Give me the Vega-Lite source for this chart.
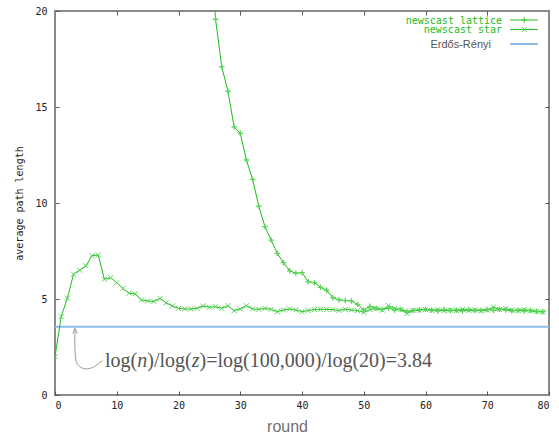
{
  "$schema": "https://vega.github.io/schema/vega-lite/v6.json",
  "width": 494,
  "height": 384,
  "autosize": {"type": "none"},
  "padding": {"left": 55, "top": 11, "right": 10, "bottom": 41},
  "background": "white",
  "config": {
    "view": {"stroke": "#8a8a8a", "strokeWidth": 2},
    "axis": {
      "domain": false,
      "grid": false,
      "tickSize": -4,
      "tickColor": "#555555",
      "tickWidth": 1,
      "labelFont": "DejaVu Sans Mono",
      "labelFontSize": 10,
      "labelColor": "#222222"
    }
  },
  "datasets": {
    "paths": [
      {"series": "star", "round": 0, "value": 2.0},
      {"series": "star", "round": 1, "value": 4.08},
      {"series": "star", "round": 2, "value": 5.04},
      {"series": "star", "round": 3, "value": 6.29},
      {"series": "star", "round": 4, "value": 6.5},
      {"series": "star", "round": 5, "value": 6.73},
      {"series": "star", "round": 6, "value": 7.26},
      {"series": "star", "round": 7, "value": 7.29},
      {"series": "star", "round": 8, "value": 6.03},
      {"series": "star", "round": 9, "value": 6.11},
      {"series": "star", "round": 10, "value": 5.85},
      {"series": "star", "round": 11, "value": 5.55},
      {"series": "star", "round": 12, "value": 5.3},
      {"series": "star", "round": 13, "value": 5.27},
      {"series": "star", "round": 14, "value": 4.95},
      {"series": "star", "round": 15, "value": 4.9},
      {"series": "star", "round": 16, "value": 4.87},
      {"series": "star", "round": 17, "value": 5.03},
      {"series": "star", "round": 18, "value": 4.8},
      {"series": "star", "round": 19, "value": 4.64},
      {"series": "star", "round": 20, "value": 4.51},
      {"series": "star", "round": 21, "value": 4.48},
      {"series": "star", "round": 22, "value": 4.48},
      {"series": "star", "round": 23, "value": 4.51},
      {"series": "star", "round": 24, "value": 4.64},
      {"series": "star", "round": 25, "value": 4.57},
      {"series": "star", "round": 26, "value": 4.6},
      {"series": "star", "round": 27, "value": 4.51},
      {"series": "star", "round": 28, "value": 4.65},
      {"series": "star", "round": 29, "value": 4.39},
      {"series": "star", "round": 30, "value": 4.48},
      {"series": "star", "round": 31, "value": 4.65},
      {"series": "star", "round": 32, "value": 4.48},
      {"series": "star", "round": 33, "value": 4.46},
      {"series": "star", "round": 34, "value": 4.51},
      {"series": "star", "round": 35, "value": 4.46},
      {"series": "star", "round": 36, "value": 4.34},
      {"series": "star", "round": 37, "value": 4.43},
      {"series": "star", "round": 38, "value": 4.48},
      {"series": "star", "round": 39, "value": 4.43},
      {"series": "star", "round": 40, "value": 4.34},
      {"series": "star", "round": 41, "value": 4.4},
      {"series": "star", "round": 42, "value": 4.45},
      {"series": "star", "round": 43, "value": 4.46},
      {"series": "star", "round": 44, "value": 4.46},
      {"series": "star", "round": 45, "value": 4.45},
      {"series": "star", "round": 46, "value": 4.4},
      {"series": "star", "round": 47, "value": 4.46},
      {"series": "star", "round": 48, "value": 4.43},
      {"series": "star", "round": 49, "value": 4.4},
      {"series": "star", "round": 50, "value": 4.3},
      {"series": "star", "round": 51, "value": 4.45},
      {"series": "star", "round": 52, "value": 4.5},
      {"series": "star", "round": 53, "value": 4.42},
      {"series": "star", "round": 54, "value": 4.65},
      {"series": "star", "round": 55, "value": 4.5},
      {"series": "star", "round": 56, "value": 4.45},
      {"series": "star", "round": 57, "value": 4.25},
      {"series": "star", "round": 58, "value": 4.4},
      {"series": "star", "round": 59, "value": 4.42},
      {"series": "star", "round": 60, "value": 4.45},
      {"series": "star", "round": 61, "value": 4.4},
      {"series": "star", "round": 62, "value": 4.45},
      {"series": "star", "round": 63, "value": 4.38},
      {"series": "star", "round": 64, "value": 4.42},
      {"series": "star", "round": 65, "value": 4.4},
      {"series": "star", "round": 66, "value": 4.46},
      {"series": "star", "round": 67, "value": 4.4},
      {"series": "star", "round": 68, "value": 4.43},
      {"series": "star", "round": 69, "value": 4.38},
      {"series": "star", "round": 70, "value": 4.42},
      {"series": "star", "round": 71, "value": 4.58},
      {"series": "star", "round": 72, "value": 4.45},
      {"series": "star", "round": 73, "value": 4.5},
      {"series": "star", "round": 74, "value": 4.42},
      {"series": "star", "round": 75, "value": 4.4},
      {"series": "star", "round": 76, "value": 4.45},
      {"series": "star", "round": 77, "value": 4.38},
      {"series": "star", "round": 78, "value": 4.35},
      {"series": "star", "round": 79, "value": 4.32},
      {"series": "lattice", "round": 25, "value": 24.0},
      {"series": "lattice", "round": 26, "value": 19.57},
      {"series": "lattice", "round": 27, "value": 17.1},
      {"series": "lattice", "round": 28, "value": 15.83},
      {"series": "lattice", "round": 29, "value": 13.97},
      {"series": "lattice", "round": 30, "value": 13.63},
      {"series": "lattice", "round": 31, "value": 12.24},
      {"series": "lattice", "round": 32, "value": 11.23},
      {"series": "lattice", "round": 33, "value": 9.84},
      {"series": "lattice", "round": 34, "value": 8.77},
      {"series": "lattice", "round": 35, "value": 8.07},
      {"series": "lattice", "round": 36, "value": 7.38},
      {"series": "lattice", "round": 37, "value": 6.89},
      {"series": "lattice", "round": 38, "value": 6.47},
      {"series": "lattice", "round": 39, "value": 6.34},
      {"series": "lattice", "round": 40, "value": 6.37},
      {"series": "lattice", "round": 41, "value": 5.9},
      {"series": "lattice", "round": 42, "value": 5.85},
      {"series": "lattice", "round": 43, "value": 5.61},
      {"series": "lattice", "round": 44, "value": 5.45},
      {"series": "lattice", "round": 45, "value": 5.07},
      {"series": "lattice", "round": 46, "value": 4.96},
      {"series": "lattice", "round": 47, "value": 4.92},
      {"series": "lattice", "round": 48, "value": 4.9},
      {"series": "lattice", "round": 49, "value": 4.72},
      {"series": "lattice", "round": 50, "value": 4.43},
      {"series": "lattice", "round": 51, "value": 4.62},
      {"series": "lattice", "round": 52, "value": 4.52},
      {"series": "lattice", "round": 53, "value": 4.46},
      {"series": "lattice", "round": 54, "value": 4.52},
      {"series": "lattice", "round": 55, "value": 4.43},
      {"series": "lattice", "round": 56, "value": 4.46},
      {"series": "lattice", "round": 57, "value": 4.35},
      {"series": "lattice", "round": 58, "value": 4.4},
      {"series": "lattice", "round": 59, "value": 4.43},
      {"series": "lattice", "round": 60, "value": 4.46},
      {"series": "lattice", "round": 61, "value": 4.42},
      {"series": "lattice", "round": 62, "value": 4.38},
      {"series": "lattice", "round": 63, "value": 4.45},
      {"series": "lattice", "round": 64, "value": 4.4},
      {"series": "lattice", "round": 65, "value": 4.42},
      {"series": "lattice", "round": 66, "value": 4.38},
      {"series": "lattice", "round": 67, "value": 4.45},
      {"series": "lattice", "round": 68, "value": 4.4},
      {"series": "lattice", "round": 69, "value": 4.42},
      {"series": "lattice", "round": 70, "value": 4.45},
      {"series": "lattice", "round": 71, "value": 4.4},
      {"series": "lattice", "round": 72, "value": 4.46},
      {"series": "lattice", "round": 73, "value": 4.42},
      {"series": "lattice", "round": 74, "value": 4.38},
      {"series": "lattice", "round": 75, "value": 4.42},
      {"series": "lattice", "round": 76, "value": 4.38},
      {"series": "lattice", "round": 77, "value": 4.4},
      {"series": "lattice", "round": 78, "value": 4.36},
      {"series": "lattice", "round": 79, "value": 4.34}
    ],
    "er": [{"label": "Erdős-Rényi", "value": 3.56}],
    "arrow": [
      {"i": 0, "round": 3.24, "value": 3.4},
      {"i": 1, "round": 3.24, "value": 2.3},
      {"i": 2, "round": 3.6, "value": 1.62},
      {"i": 3, "round": 4.6, "value": 1.38},
      {"i": 4, "round": 6.0, "value": 1.42},
      {"i": 5, "round": 7.7, "value": 1.8}
    ]
  },
  "layer": [
    {
      "data": {"name": "er"},
      "mark": {"type": "rule", "color": "#8cbbe9", "strokeWidth": 2},
      "encoding": {
        "y": {"field": "value", "type": "quantitative", "scale": {"domain": [0, 20], "nice": false}, "axis": null}
      }
    },
    {
      "data": {"name": "paths"},
      "mark": {"type": "line", "clip": true, "strokeWidth": 1, "color": "#1dbb1d"},
      "encoding": {
        "x": {
          "field": "round", "type": "quantitative",
          "scale": {"domain": [0, 80], "nice": false, "zero": false},
          "axis": {
            "orient": "bottom", "values": [0, 10, 20, 30, 40, 50, 60, 70, 80],
            "labelPadding": 9, "title": "round",
            "titleFont": "Liberation Sans", "titleFontSize": 16, "titleFontWeight": "normal",
            "titleColor": "#707070", "titlePadding": 8, "titleX": 232
          }
        },
        "y": {
          "field": "value", "type": "quantitative",
          "scale": {"domain": [0, 20], "nice": false},
          "axis": {
            "orient": "left", "values": [0, 5, 10, 15, 20],
            "labelPadding": 12, "title": "average path length",
            "titleFont": "DejaVu Sans Mono", "titleFontSize": 10, "titleFontWeight": "normal",
            "titleColor": "#222222", "titlePadding": 10
          }
        },
        "detail": {"field": "series"}
      }
    },
    {
      "data": {"name": "paths"},
      "transform": [{"filter": "datum.series === 'star'"}],
      "mark": {"type": "point", "clip": true, "shape": "M-1,-1L1,1M-1,1L1,-1", "filled": false, "stroke": "#55d455", "strokeWidth": 1, "size": 25, "opacity": 1},
      "encoding": {
        "x": {
          "field": "round", "type": "quantitative",
          "scale": {"domain": [0, 80], "nice": false, "zero": false},
          "axis": {"orient": "top", "values": [10, 20, 30, 40, 50, 60, 70], "labels": false, "title": null}
        },
        "y": {
          "field": "value", "type": "quantitative",
          "scale": {"domain": [0, 20], "nice": false},
          "axis": {"orient": "right", "values": [5, 10, 15], "labels": false, "title": null}
        }
      }
    },
    {
      "data": {"name": "paths"},
      "transform": [{"filter": "datum.series === 'lattice'"}],
      "mark": {"type": "point", "clip": true, "shape": "M-1,0L1,0M0,-1L0,1", "filled": false, "stroke": "#55d455", "strokeWidth": 1.3, "size": 30, "opacity": 1},
      "encoding": {
        "x": {"field": "round", "type": "quantitative", "axis": null},
        "y": {"field": "value", "type": "quantitative", "axis": null}
      }
    },
    {
      "data": {"name": "arrow"},
      "mark": {"type": "line", "interpolate": "catmull-rom", "color": "#9a9a9a", "strokeWidth": 1},
      "encoding": {
        "x": {"field": "round", "type": "quantitative", "axis": null},
        "y": {"field": "value", "type": "quantitative", "axis": null},
        "order": {"field": "i"}
      }
    },
    {
      "data": {"values": [{}]},
      "mark": {"type": "point", "shape": "M-0.7,0.8L0,-0.9L0.7,0.8", "filled": false, "stroke": "#9a9a9a", "strokeWidth": 1, "size": 40, "opacity": 1},
      "encoding": {
        "x": {"datum": 3.24, "type": "quantitative", "axis": null},
        "y": {"datum": 3.33, "type": "quantitative", "axis": null}
      }
    },
    {
      "data": {"values": [{}]},
      "layer": [
        {"mark": {"type": "text", "text": "log(", "font": "Liberation Serif", "fontSize": 20, "color": "#555555", "align": "left", "baseline": "alphabetic", "dx": 0}},
        {"mark": {"type": "text", "text": "n", "font": "Liberation Serif", "fontStyle": "italic", "fontSize": 20, "color": "#555555", "align": "left", "baseline": "alphabetic", "dx": 32.2}},
        {"mark": {"type": "text", "text": ")/log(", "font": "Liberation Serif", "fontSize": 20, "color": "#555555", "align": "left", "baseline": "alphabetic", "dx": 42.2}},
        {"mark": {"type": "text", "text": "z", "font": "Liberation Serif", "fontStyle": "italic", "fontSize": 20, "color": "#555555", "align": "left", "baseline": "alphabetic", "dx": 86.7}},
        {"mark": {"type": "text", "text": ")=log(100,000)/log(20)=3.84", "font": "Liberation Serif", "fontSize": 20, "color": "#555555", "align": "left", "baseline": "alphabetic", "dx": 94.5}}
      ],
      "encoding": {
        "x": {"datum": 8.1, "type": "quantitative", "axis": null},
        "y": {"datum": 1.46, "type": "quantitative", "axis": null}
      }
    },
    {
      "data": {"values": [{}]},
      "layer": [
        {
          "mark": {"type": "text", "text": "newscast lattice", "font": "DejaVu Sans Mono", "fontSize": 10, "color": "#1dbb1d", "align": "right", "baseline": "middle"},
          "encoding": {"x": {"datum": 72.4, "type": "quantitative", "axis": null}, "y": {"datum": 19.5, "type": "quantitative", "axis": null}}
        },
        {
          "mark": {"type": "text", "text": "newscast star", "font": "DejaVu Sans Mono", "fontSize": 10, "color": "#1dbb1d", "align": "right", "baseline": "middle"},
          "encoding": {"x": {"datum": 72.4, "type": "quantitative", "axis": null}, "y": {"datum": 19.0, "type": "quantitative", "axis": null}}
        },
        {
          "mark": {"type": "text", "text": "Erdős-Rényi", "font": "Liberation Sans", "fontSize": 11, "color": "#555555", "align": "right", "baseline": "middle"},
          "encoding": {"x": {"datum": 70.6, "type": "quantitative", "axis": null}, "y": {"datum": 18.23, "type": "quantitative", "axis": null}}
        },
        {
          "mark": {"type": "rule", "color": "#1dbb1d", "strokeWidth": 1},
          "encoding": {"x": {"datum": 73.7, "type": "quantitative", "axis": null}, "x2": {"datum": 78.2}, "y": {"datum": 19.53, "type": "quantitative", "axis": null}}
        },
        {
          "mark": {"type": "rule", "color": "#1dbb1d", "strokeWidth": 1},
          "encoding": {"x": {"datum": 73.7, "type": "quantitative", "axis": null}, "x2": {"datum": 78.2}, "y": {"datum": 19.04, "type": "quantitative", "axis": null}}
        },
        {
          "mark": {"type": "rule", "color": "#8cbbe9", "strokeWidth": 2},
          "encoding": {"x": {"datum": 73.7, "type": "quantitative", "axis": null}, "x2": {"datum": 78.2}, "y": {"datum": 18.28, "type": "quantitative", "axis": null}}
        },
        {
          "mark": {"type": "point", "shape": "M-1,0L1,0M0,-1L0,1", "filled": false, "stroke": "#55d455", "strokeWidth": 1.3, "size": 30, "opacity": 1},
          "encoding": {"x": {"datum": 76.0, "type": "quantitative", "axis": null}, "y": {"datum": 19.53, "type": "quantitative", "axis": null}}
        },
        {
          "mark": {"type": "point", "shape": "M-1,-1L1,1M-1,1L1,-1", "filled": false, "stroke": "#55d455", "strokeWidth": 1, "size": 25, "opacity": 1},
          "encoding": {"x": {"datum": 76.0, "type": "quantitative", "axis": null}, "y": {"datum": 19.04, "type": "quantitative", "axis": null}}
        }
      ]
    }
  ]
}
